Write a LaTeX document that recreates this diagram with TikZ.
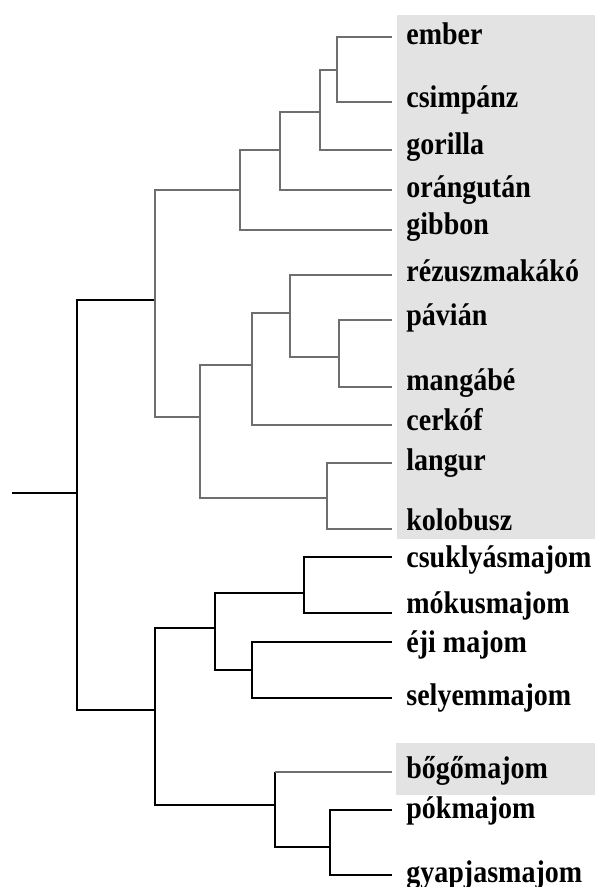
\documentclass[tikz,border=0pt]{standalone}
\usepackage{fontspec}
\setmainfont{Liberation Serif}
\usepackage{xcolor}
\definecolor{cOld}{HTML}{6E6E6E}
\definecolor{cShade}{HTML}{E3E3E3}
\tikzset{
  branch/.style={line width=1.3pt,draw=black},
  branch-old/.style={line width=1.3pt,draw=cOld},
  leaf-label/.style={anchor=base west,inner sep=0pt,
    font=\fontsize{14}{16}\selectfont\bfseries},
  shade-box/.style={fill=cShade,draw=none},
}

\begin{document}
\begin{tikzpicture}[x=0.5pt,y=-0.5pt]
  \useasboundingbox (0,0) rectangle (595,887);
  % shaded groups
  \fill[shade-box] (397,15)  rectangle (595,539);
  \fill[shade-box] (396,743) rectangle (595,795);

  % tips and their names
  \foreach \id/\y/\b/\txt in {
      ember/37/45/ember, csimp/102/108/csimpánz, gor/150/155/gorilla,
      orang/190/198/orángután, gib/230/235/gibbon,
      rezus/275/282/rézuszmakákó, pav/320/325/pávián, mang/387/390/mangábé,
      cerk/425/430/cerkóf, lang/463/470/langur, kolo/529/530/kolobusz,
      csuk/557/567/csuklyásmajom, moku/613/613/mókusmajom,
      eji/642/652/éji majom, sely/698/705/selyemmajom,
      bogo/772/778/bőgőmajom, pok/810/818/pókmajom, gyap/875/882/gyapjasmajom} {
    \coordinate (\id) at (392,\y);
    \node[leaf-label] (lbl-\id) at (406,\b) {\scalebox{1}[1.12]{\txt}};
  }

  % inner nodes
  \coordinate (stem) at (12,493);
  \coordinate (root) at (77,493);
  \coordinate (cat)  at (155,300);
  \coordinate (hom)  at (240,190);
  \coordinate (hom2) at (280,150);
  \coordinate (hom3) at (320,112);
  \coordinate (hom4) at (337,70);
  \coordinate (owm)  at (200,417);
  \coordinate (owm2) at (252,365);
  \coordinate (owm3) at (290,313);
  \coordinate (owm4) at (339,357);
  \coordinate (col)  at (327,498);
  \coordinate (nw)   at (155,710);
  \coordinate (nw1)  at (215,628);
  \coordinate (nw2)  at (275,805);
  \coordinate (nw3)  at (304,593);
  \coordinate (nw4)  at (252,670);
  \coordinate (nw5)  at (330,847);

  \draw[branch] (stem) -- (root);
  \draw[branch] (root) |- (cat);
  \draw[branch] (root) |- (nw);

  % Old World
  \draw[branch-old] (cat) |- (hom);
  \draw[branch-old] (cat) |- (owm);
  \draw[branch-old] (hom) |- (hom2);
  \draw[branch-old] (hom) |- (gib);
  \draw[branch-old] (hom2) |- (hom3);
  \draw[branch-old] (hom2) |- (orang);
  \draw[branch-old] (hom3) |- (hom4);
  \draw[branch-old] (hom3) |- (gor);
  \draw[branch-old] (hom4) |- (ember);
  \draw[branch-old] (hom4) |- (csimp);
  \draw[branch-old] (owm) |- (owm2);
  \draw[branch-old] (owm) |- (col);
  \draw[branch-old] (owm2) |- (owm3);
  \draw[branch-old] (owm2) |- (cerk);
  \draw[branch-old] (owm3) |- (rezus);
  \draw[branch-old] (owm3) |- (owm4);
  \draw[branch-old] (owm4) |- (pav);
  \draw[branch-old] (owm4) |- (mang);
  \draw[branch-old] (col) |- (lang);
  \draw[branch-old] (col) |- (kolo);

  % New World
  \draw[branch] (nw) |- (nw1);
  \draw[branch] (nw) |- (nw2);
  \draw[branch] (nw1) |- (nw3);
  \draw[branch] (nw1) |- (nw4);
  \draw[branch] (nw3) |- (csuk);
  \draw[branch] (nw3) |- (moku);
  \draw[branch] (nw4) |- (eji);
  \draw[branch] (nw4) |- (sely);
  \draw[branch] (nw2) -- (nw2 |- bogo);
  \draw[branch-old] (nw2 |- bogo) -- (bogo);
  \draw[branch] (nw2) |- (nw5);
  \draw[branch] (nw5) |- (pok);
  \draw[branch] (nw5) |- (gyap);
\end{tikzpicture}
\end{document}
